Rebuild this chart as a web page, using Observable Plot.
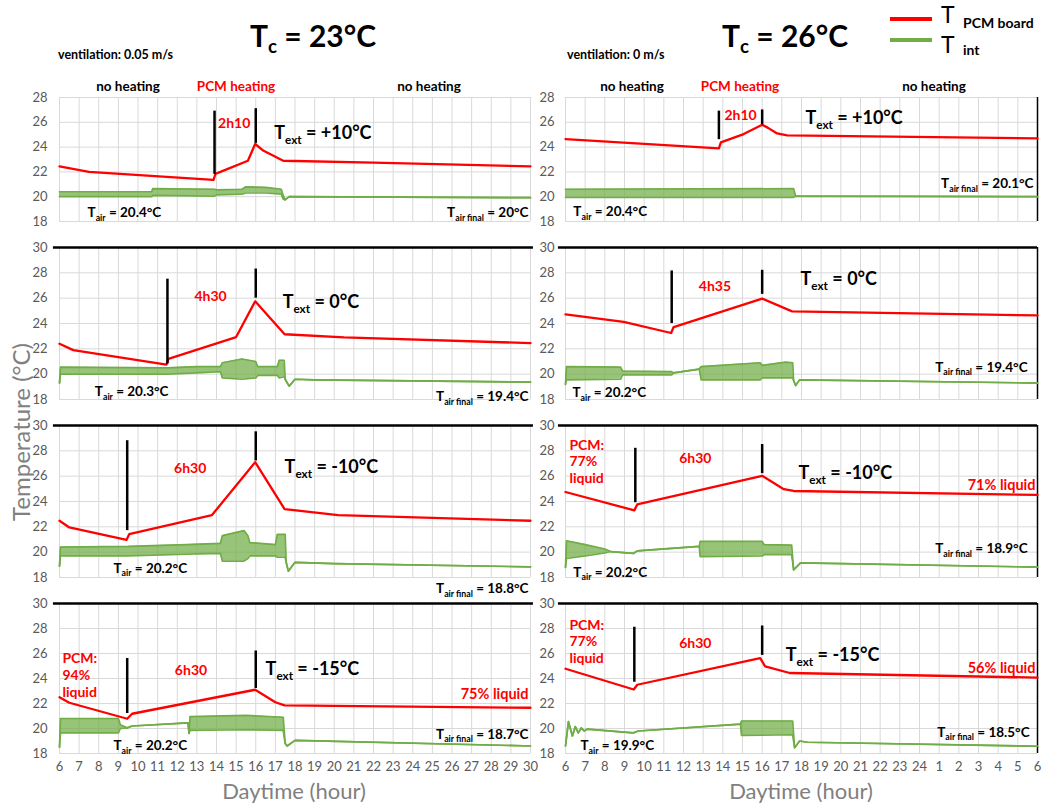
<!DOCTYPE html>
<html><head><meta charset="utf-8">
<script src="https://cdn.jsdelivr.net/npm/d3@7"></script>
<script src="https://cdn.jsdelivr.net/npm/@observablehq/plot@0.6"></script>
<style>
body{margin:0;background:#fff;}
#wrap{position:relative;width:1054px;height:805px;overflow:hidden;font-family:Lato,"Open Sans",sans-serif;}
.lbl{position:absolute;white-space:nowrap;line-height:1;}
.lbl sub{font-size:0.62em;vertical-align:-0.32em;line-height:0;}
.pan{position:absolute;}
.pan svg{overflow:visible;}
</style></head><body><div id="wrap"></div>
<script>
// ---------------- DATA ----------------
const hours = [6,7,8,9,10,11,12,13,14,15,16,17,18,19,20,21,22,23,24,25,26,27,28,29,30];
const xLabelsLeft = ["6","7","8","9","10","11","12","13","14","15","16","17","18","19","20","21","22","23","24","25","26","27","28","29","30"];
const xLabelsRight = ["6","7","8","9","10","11","12","13","14","15","16","17","18","19","20","21","22","23","24","1","2","3","4","5","6"];
const yTicksTop = [18,20,22,24,26,28];
const yTicksRest = [18,20,22,24,26,28,30];

// PCM board temperature  [hour, °C]
const pcm_23_p10 = [[6,22.45],[7.5,22.0],[13.85,21.35],[13.95,21.85],[14.2,22.0],[15.6,22.9],[15.97,24.25],[16.4,23.7],[17.4,22.9],[22,22.75],[30,22.45]];
const pcm_23_0   = [[6,22.4],[6.7,21.9],[11.45,20.75],[11.55,21.2],[15.0,22.93],[15.97,25.75],[17.47,23.15],[20.5,22.9],[30,22.45]];
const pcm_23_m10 = [[6,22.48],[6.5,21.95],[9.42,20.98],[9.55,21.42],[13.77,22.93],[15.97,27.1],[17.47,23.4],[20.2,22.93],[30,22.48]];
const pcm_23_m15 = [[6,22.5],[6.5,22.06],[9.45,20.78],[9.7,21.18],[15.97,23.1],[17.0,22.1],[17.47,21.85],[30,21.66]];
const pcm_26_p10 = [[6,24.65],[13.8,23.9],[13.9,24.38],[15.06,25.05],[16.0,25.8],[16.3,25.55],[16.76,25.1],[17.27,24.95],[30,24.7]];
const pcm_26_0   = [[6,24.72],[8.96,24.12],[11.37,23.25],[11.5,23.72],[16.0,25.96],[17.52,24.96],[30,24.64]];
const pcm_26_m10 = [[6,24.75],[9.5,23.3],[9.65,23.77],[16.0,26.03],[17.1,24.97],[17.6,24.83],[30,24.52]];
const pcm_26_m15 = [[6,24.78],[9.47,23.12],[9.65,23.5],[15.9,25.63],[16.15,24.97],[17.4,24.44],[30,24.07]];

// Interior air temperature, oscillation envelope  [hour, low °C, high °C]
const int_23_p10 = [[6,20.0,20.4],[10.7,20.0,20.4],[10.75,20.1,20.65],[13.9,20.05,20.6],[14.0,20.15,20.55],[15.3,20.2,20.6],[15.5,20.3,20.8],[16.5,20.3,20.75],[17.3,20.2,20.6],[17.4,19.8,20.1],[17.5,19.75,19.75],[17.7,20.0,20.0],[30,19.92,19.92]];
const int_23_0   = [[6,19.3,19.3],[6.05,20.0,20.55],[11.5,20.0,20.5],[13.0,20.1,20.6],[14.2,20.2,20.6],[14.3,19.7,20.9],[15.3,19.6,21.2],[16.0,19.7,21.0],[16.1,19.9,20.6],[17.1,19.9,20.6],[17.2,19.7,21.1],[17.45,19.8,21.1],[17.5,19.6,19.6],[17.7,19.05,19.05],[18.0,19.6,19.6],[19,19.55,19.55],[30,19.37,19.37]];
const int_23_m10 = [[6,18.9,18.9],[6.05,19.7,20.4],[9.5,19.7,20.45],[12.5,19.85,20.6],[14.2,19.9,20.7],[14.3,19.3,21.3],[15.4,19.3,21.7],[15.6,19.5,21.3],[15.7,19.7,20.75],[17.0,19.7,20.6],[17.1,19.6,21.4],[17.5,19.6,21.4],[17.55,19.2,19.2],[17.66,18.5,18.5],[18.0,19.2,19.2],[20,19.1,19.1],[30,18.84,18.84]];
const int_23_m15 = [[6,18.5,18.5],[6.05,19.65,20.8],[9.0,19.65,20.8],[9.1,20.0,20.3],[9.45,20.05,20.05],[9.7,20.2,20.2],[12.55,20.45,20.45],[12.6,19.6,19.6],[12.65,19.85,20.95],[15.5,19.9,21.05],[17.4,19.85,20.9],[17.5,18.8,18.8],[17.6,18.6,18.6],[18.0,19.05,19.05],[30,18.6,18.6]];
const int_26_p10 = [[6,19.95,20.6],[17.6,19.95,20.65],[17.7,20.05,20.05],[30,20.0,20.0]];
const int_26_0   = [[6,19.2,19.2],[6.05,19.55,20.6],[8.8,19.6,20.55],[8.9,19.95,20.25],[11.4,19.95,20.2],[11.5,20.1,20.1],[12.8,20.4,20.4],[12.9,19.55,20.6],[15.9,19.55,20.9],[16.0,19.7,20.7],[17.2,19.7,20.95],[17.55,19.7,20.9],[17.6,19.5,19.5],[17.7,19.1,19.1],[17.9,19.55,19.55],[30,19.3,19.3]];
const int_26_m10 = [[6,18.8,18.8],[6.05,19.5,20.9],[7.0,19.7,20.6],[8.0,19.95,20.25],[8.3,20.05,20.05],[9.45,19.9,19.9],[9.65,20.1,20.1],[12.8,20.45,20.45],[12.85,19.65,20.85],[16.0,19.7,20.85],[16.1,19.8,20.6],[17.5,19.8,20.55],[17.6,18.6,18.6],[17.95,19.15,19.15],[30,18.82,18.82]];
const int_26_m15 = [[6,18.6,18.6],[6.15,20.55,20.55],[6.35,19.4,19.4],[6.5,20.15,20.15],[6.65,19.65,19.65],[6.8,20.05,20.05],[6.95,19.8,19.8],[7.1,19.95,19.95],[9.45,19.65,19.65],[9.7,19.8,19.8],[14.9,20.35,20.35],[14.95,19.45,20.6],[17.55,19.5,20.6],[17.65,18.45,18.45],[17.9,19.0,19.0],[18.3,18.9,18.9],[30,18.58,18.58]];

// heating start / stop markers  [hour, from °C, to °C]
const mark_23_p10 = [[13.9,21.8,26.9],[16.0,24.3,27.1]];
const mark_23_0   = [[11.5,20.8,27.5],[16.0,26.0,28.3]];
const mark_23_m10 = [[9.45,21.7,28.8],[16.0,27.2,29.5]];
const mark_23_m15 = [[9.45,21.2,25.6],[16.0,23.2,26.2]];
const mark_26_p10 = [[13.8,24.6,26.9],[16.0,25.8,27.0]];
const mark_26_0   = [[11.4,24.0,28.15],[16.0,26.3,28.2]];
const mark_26_m10 = [[9.55,23.9,28.2],[16.0,26.2,28.5]];
const mark_26_m15 = [[9.5,23.7,28.1],[16.0,25.85,28.2]];

// ---------------- LAYOUT / STYLE ----------------
const cols = [
  {left:0,   width:545, ml:59, mr:15, lineFrom:5.69, lineTo:30.15, pad:12},
  {left:530, width:524, ml:35, mr:17, lineFrom:5.64, lineTo:30,    pad:11}
];
const rows = [
  {ymax:28, top:97,  bottom:221},
  {ymax:30, top:247, bottom:399},
  {ymax:30, top:425, bottom:577},
  {ymax:30, top:603, bottom:753}
];
const styles = {
  dur:    {fill:"#ff0000", size:14, anchor:"middle"},
  text:   {fill:"#000",    size:18, anchor:"start"},
  air:    {fill:"#000",    size:13.5, anchor:"start"},
  airEnd: {fill:"#000",    size:13.5, anchor:"end"},
  pcm:    {fill:"#ff0000", size:14, anchor:"start"},
  liq:    {fill:"#ff0000", size:14.5, anchor:"end"}
};
const panels = [
  {col:0,row:0,pcm:pcm_23_p10,tint:int_23_p10,bars:mark_23_p10,notes:[
    {t:14.9,v:26.0,text:"2h10",s:"dur"},{t:16.94,v:25.2,text:"T_{ext} = +10°C",s:"text"},
    {t:7.43,v:18.75,text:"T_{air} = 20.4°C",s:"air"},{t:29.9,v:18.75,text:"T_{air final} = 20°C",s:"airEnd"}]},
  {col:0,row:1,pcm:pcm_23_0,tint:int_23_0,bars:mark_23_0,notes:[
    {t:13.7,v:26.2,text:"4h30",s:"dur"},{t:17.37,v:25.8,text:"T_{ext} = 0°C",s:"text"},
    {t:7.8,v:18.7,text:"T_{air} = 20.3°C",s:"air"},{t:29.9,v:18.3,text:"T_{air final} = 19.4°C",s:"airEnd"}]},
  {col:0,row:2,pcm:pcm_23_m10,tint:int_23_m10,bars:mark_23_m10,notes:[
    {t:12.66,v:26.7,text:"6h30",s:"dur"},{t:17.47,v:26.8,text:"T_{ext} = -10°C",s:"text"},
    {t:8.75,v:18.8,text:"T_{air} = 20.2°C",s:"air"},{t:29.9,v:17.2,text:"T_{air final} = 18.8°C",s:"airEnd"}]},
  {col:0,row:3,pcm:pcm_23_m15,tint:int_23_m15,bars:mark_23_m15,notes:[
    {t:6.15,v:24.3,text:"PCM:\n94%\nliquid",s:"pcm"},{t:12.7,v:24.7,text:"6h30",s:"dur"},
    {t:16.5,v:24.8,text:"T_{ext} = -15°C",s:"text"},{t:29.9,v:22.77,text:"75% liquid",s:"liq"},
    {t:8.75,v:18.66,text:"T_{air} = 20.2°C",s:"air"},{t:29.9,v:19.6,text:"T_{air final} = 18.7°C",s:"airEnd"}]},
  {col:1,row:0,pcm:pcm_26_p10,tint:int_26_p10,bars:mark_26_p10,notes:[
    {t:14.9,v:26.66,text:"2h10",s:"dur"},{t:18.2,v:26.4,text:"T_{ext} = +10°C",s:"text"},
    {t:6.4,v:18.83,text:"T_{air} = 20.4°C",s:"air"},{t:29.8,v:21.08,text:"T_{air final} = 20.1°C",s:"airEnd"}]},
  {col:1,row:1,pcm:pcm_26_0,tint:int_26_0,bars:mark_26_0,notes:[
    {t:13.6,v:27.0,text:"4h35",s:"dur"},{t:17.95,v:27.55,text:"T_{ext} = 0°C",s:"text"},
    {t:6.35,v:18.57,text:"T_{air} = 20.2°C",s:"air"},{t:29.5,v:20.6,text:"T_{air final} = 19.4°C",s:"airEnd"}]},
  {col:1,row:2,pcm:pcm_26_m10,tint:int_26_m10,bars:mark_26_m10,notes:[
    {t:6.2,v:27.2,text:"PCM:\n77%\nliquid",s:"pcm"},{t:12.6,v:27.43,text:"6h30",s:"dur"},
    {t:17.85,v:26.3,text:"T_{ext} = -10°C",s:"text"},{t:29.9,v:25.36,text:"71% liquid",s:"liq"},
    {t:6.4,v:18.48,text:"T_{air} = 20.2°C",s:"air"},{t:29.5,v:20.33,text:"T_{air final} = 18.9°C",s:"airEnd"}]},
  {col:1,row:3,pcm:pcm_26_m15,tint:int_26_m15,bars:mark_26_m15,notes:[
    {t:6.2,v:27.0,text:"PCM:\n77%\nliquid",s:"pcm"},{t:12.6,v:26.9,text:"6h30",s:"dur"},
    {t:17.2,v:25.97,text:"T_{ext} = -15°C",s:"text"},{t:29.9,v:24.9,text:"56% liquid",s:"liq"},
    {t:6.76,v:18.7,text:"T_{air} = 19.9°C",s:"air"},{t:29.6,v:19.77,text:"T_{air final} = 18.5°C",s:"airEnd"}]}
];

// ---------------- RENDER ----------------
const wrap = document.getElementById("wrap");
const SVGNS = "http://www.w3.org/2000/svg";

function subify(root){
  const walker = document.createTreeWalker(root, NodeFilter.SHOW_TEXT);
  const nodes = [];
  while (walker.nextNode()) if (walker.currentNode.nodeValue.includes("_{")) nodes.push(walker.currentNode);
  for (const n of nodes){
    const parts = n.nodeValue.split(/(_\{[^}]*\})/).filter(s => s.length);
    const frag = document.createDocumentFragment();
    let back = 0;
    for (const p of parts){
      const ts = document.createElementNS(SVGNS, "tspan");
      if (p.startsWith("_{")){
        ts.textContent = p.slice(2, -1);
        ts.setAttribute("style", "font-size:65%");
        ts.setAttribute("dy", "0.42em");
        back = 0.42 * 0.65;
      } else {
        ts.textContent = p;
        if (back) { ts.setAttribute("dy", (-back) + "em"); back = 0; }
      }
      frag.appendChild(ts);
    }
    n.parentNode.replaceChild(frag, n);
  }
}

function makePanel(p){
  const col = cols[p.col], row = rows[p.row];
  const MT = 30, MB = p.row === 3 ? 34 : 26;
  const H = row.bottom - row.top + MT + MB;
  const yt = row.ymax === 28 ? yTicksTop : yTicksRest;
  const labels = p.col === 0 ? xLabelsLeft : xLabelsRight;
  const marks = [
    Plot.ruleX(hours, {stroke:"#d9d9d9", strokeWidth:1}),
    Plot.ruleY(yt, {stroke:"#d9d9d9", strokeWidth:1})
  ];
  if (row.ymax === 30) marks.push(Plot.ruleY([30], {x1:col.lineFrom, x2:col.lineTo, stroke:"#000", strokeWidth:2.5}));
  if (p.col === 1) marks.push(Plot.ruleX([30], {stroke:"#000", strokeWidth:1.5}));
  marks.push(
    Plot.areaY(p.tint, {x:d=>d[0], y1:d=>d[1], y2:d=>d[2], fill:"#70ad47", fillOpacity:0.72}),
    Plot.line(p.tint, {x:d=>d[0], y:d=>d[1], stroke:"#70ad47", strokeWidth:1.7}),
    Plot.line(p.tint, {x:d=>d[0], y:d=>d[2], stroke:"#70ad47", strokeWidth:1.7}),
    Plot.line(p.pcm, {x:d=>d[0], y:d=>d[1], stroke:"#ff0000", strokeWidth:2.3}),
    Plot.ruleX(p.bars, {x:d=>d[0], y1:d=>d[1], y2:d=>d[2], stroke:"#000", strokeWidth:2.5})
  );
  for (const a of p.notes){
    const s = styles[a.s];
    marks.push(Plot.text([a], {x:"t", y:"v", text:"text", fill:s.fill, fontSize:s.size, fontWeight:"bold", textAnchor:s.anchor, lineHeight:1.2}));
  }
  const svg = Plot.plot({
    width: col.width, height: H,
    marginLeft: col.ml, marginRight: col.mr, marginTop: MT, marginBottom: MB,
    x: {domain:[6,30], axis: p.row === 3 ? "bottom" : null, ticks: hours, tickFormat: d => labels[d - 6], tickSize:0, tickPadding:8, label:null},
    y: {domain:[18,row.ymax], ticks: yt, tickSize:0, tickPadding: col.pad, label:null},
    style: {background:"none", overflow:"visible", fontFamily:"Lato, sans-serif", fontSize:"13px", color:"#595959"},
    marks
  });
  subify(svg);
  const div = document.createElement("div");
  div.className = "pan";
  div.style.left = col.left + "px";
  div.style.top = (row.top - MT) + "px";
  div.appendChild(svg);
  wrap.appendChild(div);
}
panels.forEach(makePanel);

// headers, legend and axis titles
function label(html, x, base, size, opt = {}){
  const d = document.createElement("div");
  d.className = "lbl";
  d.innerHTML = html;
  const lh = opt.lh || 1;
  d.style.fontSize = size + "px";
  d.style.lineHeight = lh;
  d.style.fontWeight = opt.weight || "bold";
  d.style.color = opt.color || "#000";
  d.style.left = x + "px";
  d.style.top = (base - ((lh - 1.2) / 2 + 0.987) * size) + "px";
  if (opt.center) d.style.transform = "translateX(-50%)";
  wrap.appendChild(d);
  return d;
}
label("T<sub>c</sub> = 23°C", 313, 47, 30, {center:true});
label("T<sub>c</sub> = 26°C", 785, 47, 30, {center:true});
label("ventilation: 0.05 m/s", 58, 60, 12.5);
label("ventilation: 0 m/s", 567, 60, 12.5);
[["no heating",128,"#000"],["PCM heating",236,"#ff0000"],["no heating",429,"#000"],
 ["no heating",632,"#000"],["PCM heating",740,"#ff0000"],["no heating",934,"#000"]]
 .forEach(([t,x,c]) => label(t, x, 92, 13.5, {center:true, color:c}));

// legend: swatch, big "T", and its subscript name
const legendItems = [["PCM board","#ff0000",19,23.5,28],["int","#70ad47",40,53,55]];
legendItems.forEach(([name,color,ly,tBase,sBase]) => {
  const sw = document.createElement("div");
  sw.style.cssText = `position:absolute;left:890px;top:${ly-2}px;width:42px;height:4px;background:${color};`;
  wrap.appendChild(sw);
  label("T", 941, tBase, 23, {weight:"normal", lh:0.74});
  label(name, 963, sBase, 14, {lh:0.8});
});

// axis titles
const ytl = label("Temperature (°C)", 0, 0, 24, {weight:"normal", color:"#808080"});
ytl.style.left = "21px"; ytl.style.top = "432px";
ytl.style.transform = "translate(-50%,-50%) rotate(-90deg)";
label("Daytime (hour)", 294, 800, 22, {center:true, weight:"normal", color:"#808080"});
label("Daytime (hour)", 801, 800, 22, {center:true, weight:"normal", color:"#808080"});
</script></body></html>
